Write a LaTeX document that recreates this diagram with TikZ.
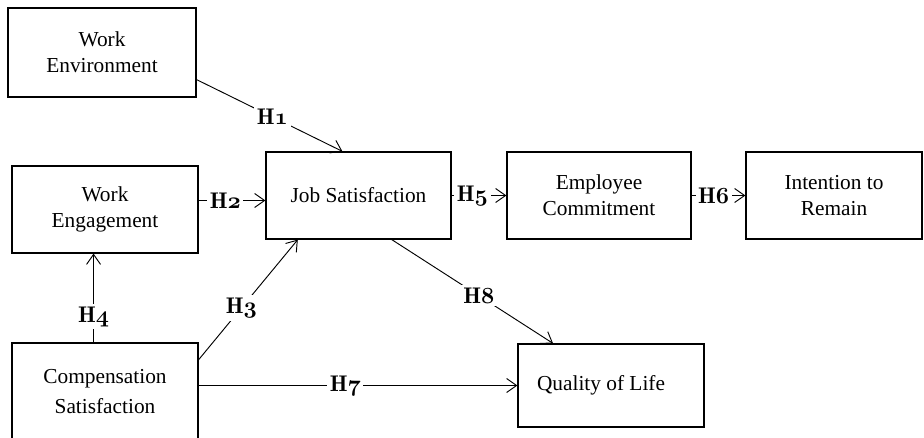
\documentclass[tikz,border=0pt]{standalone}
\usepackage{fontspec}
\setmainfont{Liberation Serif}
\usetikzlibrary{arrows.meta,calc}

% hypothesis tag: bold H with old-style bold figure
\newcommand{\hyptag}[1]{{\usefont{TU}{lmr}{b}{n}H\usefont{OML}{cmm}{b}{it}#1}}

\begin{document}
\begin{tikzpicture}[x=0.75pt,y=-0.75pt,
  box/.style={draw=black,line width=0.9pt,fill=white,inner sep=0pt,align=center,
              font=\fontsize{16}{19.5}\selectfont},
  link/.style={line width=0.7pt,-{Straight Barb[length=7.5pt,width=10.5pt]}},
  hyp/.style={fill=white,inner sep=2pt,font=\fontsize{17}{19}\selectfont}]
\path[use as bounding box,fill=white] (0,0) rectangle (924,438);

% constructs
\node[box,minimum width=141pt,minimum height=66.75pt] (we) at (102,52.5) {Work\\Environment};
\node[box,minimum width=139.5pt,minimum height=65.25pt] (wg) at (105,209.5) {Work\\Engagement};
\node[box,minimum width=138.75pt,minimum height=65.25pt] (js) at (358.5,195.5) {Job Satisfaction};
\node[box,minimum width=138pt,minimum height=65.25pt] (ec) at (599,195.5) {Employee\\Commitment};
\node[box,minimum width=132pt,minimum height=65.25pt] (ir) at (834,195.5) {Intention to\\Remain};
\node[box,minimum width=139.5pt,minimum height=73.5pt] (cs) at (105,392) {Compensation\\[3pt]Satisfaction};
\node[box,minimum width=139.5pt,minimum height=62.25pt] (ql) at (611,385.5) {Quality of Life\hspace*{15pt}};

% hypothesised paths
\draw[link] (we.-16) -- (js.110) node[hyp,pos=0.52] {\hyptag{1}};
\draw[link] ($(wg.east)+(0,-9)$) coordinate (a2) -- (a2 -| js.west) node[hyp,pos=0.4] {\hyptag{2}};
\draw[link] (cs.19) -- (js.-144) node[hyp,pos=0.43] {\hyptag{3}};
\draw[link] (cs.103) -- (cs.103 |- wg.south) node[hyp,pos=0.29] {\hyptag{4}};
\draw[link] (js.east) -- (js.east -| ec.west) node[hyp,pos=0.38] {\hyptag{5}};
\draw[link] (ec.east) -- (ec.east -| ir.west) node[hyp,pos=0.41] {\hyptag{6}};
\draw[link] (ql.west -| cs.east) -- (ql.west) node[hyp,pos=0.46] {\hyptag{7}};
\draw[link] (js.-53) -- (ql.144) node[hyp,pos=0.54] {\hyptag{8}};
\end{tikzpicture}
\end{document}
